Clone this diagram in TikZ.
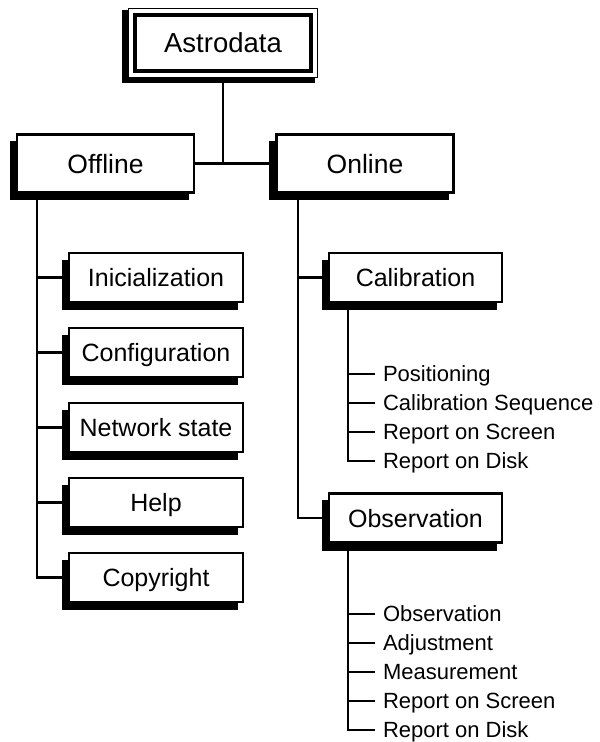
\documentclass[tikz,border=0pt]{standalone}
\usepackage{fontspec}
\setmainfont{Liberation Sans}
\usetikzlibrary{backgrounds}

% solid black drop shadow behind a box, offset down and to the left
\newcommand\boxdrop[3]{%
  \begin{pgfonlayer}{background}
    \fill[black] ([shift={(-6,#2)}]#1.south west) rectangle ([shift={(#3,8)}]#1.north east);
  \end{pgfonlayer}}

\begin{document}
\begin{tikzpicture}[x=1pt,y=-1pt,
  wire/.style={draw=black,line width=2.4pt},
  rootbox/.style={draw=black,fill=white,line width=1.6pt,outer sep=0.8pt,inner sep=0pt,
    minimum width=189pt,minimum height=69pt,text height=19.7pt,text depth=0pt,
    font=\fontsize{27.5}{32}\selectfont},
  topbox/.style={draw=black,fill=white,line width=2.4pt,outer sep=1.2pt,inner sep=0pt,
    minimum width=177pt,minimum height=58pt,text height=19pt,text depth=0pt,
    font=\fontsize{26.5}{31}\selectfont},
  menubox/.style={draw=black,fill=white,line width=2.4pt,outer sep=1.2pt,inner sep=0pt,
    minimum width=174pt,minimum height=49pt,text height=18pt,text depth=0pt,
    font=\fontsize{25}{30}\selectfont},
  subbox/.style={menubox,minimum width=173pt},
  item/.style={anchor=west,inner xsep=8pt,inner ysep=0pt,outer sep=0pt,
    text height=15.8pt,text depth=0pt,font=\fontsize{22}{26}\selectfont}
]
\useasboundingbox (0,0) rectangle (600,742);

% root
\node[rootbox] (root) at (223,43) {Astrodata};
\draw[line width=4pt] ([shift={(7,7)}]root.north west) rectangle ([shift={(-7,-7)}]root.south east);
\begin{pgfonlayer}{background}
  \fill[black] ([shift={(-6,5)}]root.south west) rectangle ([shift={(-3,2)}]root.north east);
\end{pgfonlayer}

% first level
\node[topbox] (off) at (105.5,163.5) {Offline};
\node[topbox] (on)  at (365,163.5)   {Online};
\boxdrop{off}{6}{-6}
\boxdrop{on}{6}{-6}

% offline menu
\node[menubox] (ini)  at (156,277.5) {Inicialization};
\node[menubox] (conf) at (156,352.5) {Configuration};
\node[menubox] (net)  at (156,427.5) {Network state};
\node[menubox] (help) at (156,502.5) {Help};
\node[menubox] (copy) at (156,577.5) {Copyright};
\foreach \n in {ini,conf,net,help,copy}{\boxdrop{\n}{7}{-6}}

% online menu
\node[subbox] (cal) at (415.5,277.5) {Calibration};
\node[subbox] (obs) at (415.5,518)   {Observation};
\foreach \n in {cal,obs}{\boxdrop{\n}{7}{-6}}

% calibration entries
\node[item] (c1) at (375,374) {Positioning};
\node[item] (c2) at (375,403) {Calibration Sequence};
\node[item] (c3) at (375,432) {Report on Screen};
\node[item] (c4) at (375,461) {Report on Disk};

% observation entries
\node[item] (o1) at (375,614) {Observation};
\node[item] (o2) at (375,643) {Adjustment};
\node[item] (o3) at (375,672) {Measurement};
\node[item] (o4) at (375,701) {Report on Screen};
\node[item] (o5) at (375,730) {Report on Disk};

% bus lines
\coordinate (offbus) at ([xshift=21pt]off.south west);
\coordinate (onbus)  at ([xshift=22.5pt]on.south west);
\coordinate (calbus) at ([xshift=20pt]cal.south west);
\coordinate (obsbus) at ([xshift=20pt]obs.south west);

\draw[wire] (root.south) -- (root.south |- off.east);
\draw[wire] (off.east) -- (on.west);

\draw[wire] (offbus) |- (copy.west);
\foreach \n in {ini,conf,net,help}{\draw[wire] (offbus |- \n.west) -- (\n.west);}

\draw[wire] (onbus) |- (obs.west);
\draw[wire] (onbus |- cal.west) -- (cal.west);

\draw[wire] (calbus) |- (c4.west);
\foreach \n in {c1,c2,c3}{\draw[wire] (calbus |- \n.west) -- (\n.west);}

\draw[wire] (obsbus) |- (o5.west);
\foreach \n in {o1,o2,o3,o4}{\draw[wire] (obsbus |- \n.west) -- (\n.west);}
\end{tikzpicture}
\end{document}
